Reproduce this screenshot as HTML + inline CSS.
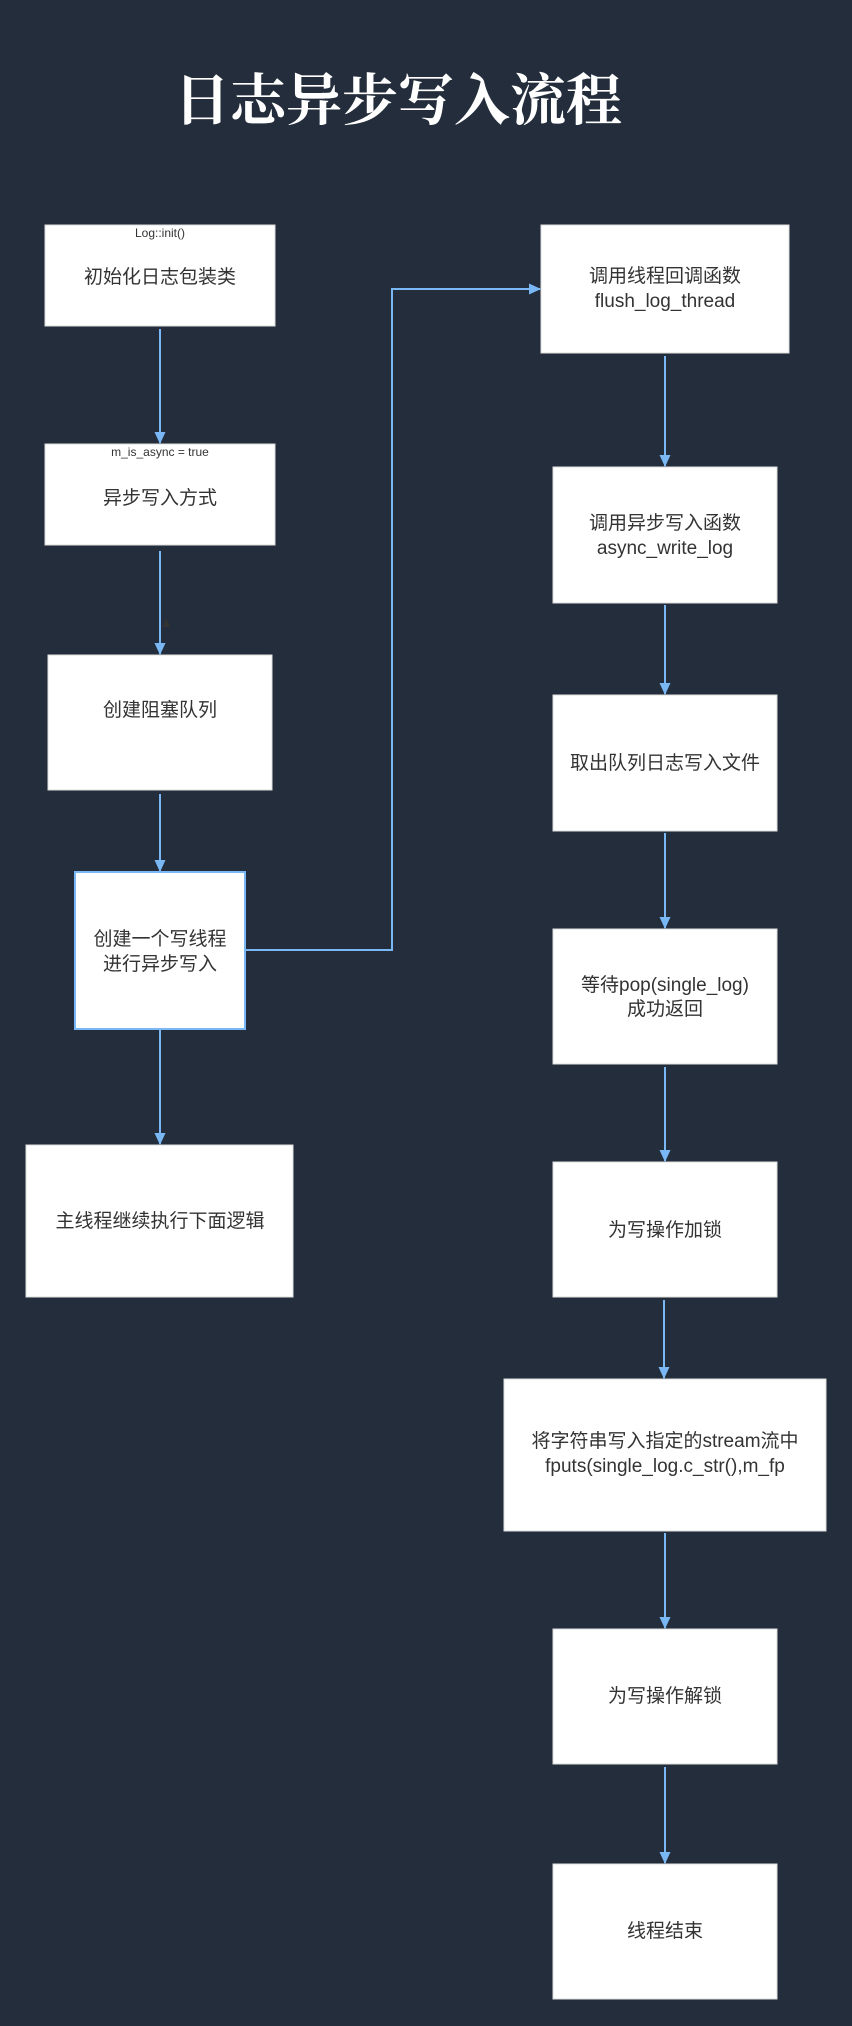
<!DOCTYPE html>
<html><head><meta charset="utf-8"><style>
body{margin:0;background:#232d3b;}
svg{display:block}
.b{fill:#fff;stroke:#ddd;stroke-width:1}
.t{font-family:"Liberation Sans","Noto Sans CJK SC",sans-serif;font-size:19px;fill:#333;text-anchor:middle}
.s{font-family:"Liberation Sans","Noto Sans CJK SC",sans-serif;font-size:12px;fill:#333;text-anchor:middle}
.l{stroke:#7ab8f5;stroke-width:2;fill:none}
</style></head><body>
<svg width="852" height="2026" viewBox="0 0 852 2026">
<defs><marker id="a" markerWidth="12" markerHeight="12" refX="11" refY="6" orient="auto" markerUnits="userSpaceOnUse"><path d="M0,0.5 L12,6 L0,11.5 Z" fill="#7ab8f5"/></marker></defs>
<text x="398" y="120" font-family="'Noto Serif CJK SC','Liberation Serif',serif" font-weight="bold" font-size="56" fill="#fff" text-anchor="middle">日志异步写入流程</text>
<rect class="b" x="45" y="225" width="230" height="101"/>
<text class="s" x="160" y="237">Log::init()</text>
<text class="t" x="160" y="283">初始化日志包装类</text>
<rect class="b" x="45" y="444" width="230" height="101"/>
<text class="s" x="160" y="456">m_is_async = true</text>
<text class="t" x="160" y="504">异步写入方式</text>
<rect class="b" x="48" y="655" width="224" height="135"/>
<text class="t" x="160" y="716">创建阻塞队列</text>
<rect x="75" y="872" width="170" height="157" fill="#fff" stroke="#7ab8f5" stroke-width="2"/>
<text class="t" x="160" y="945">创建一个写线程</text>
<text class="t" x="160" y="970">进行异步写入</text>
<rect class="b" x="26" y="1145" width="267" height="152"/>
<text class="t" x="160" y="1227">主线程继续执行下面逻辑</text>
<rect class="b" x="541" y="225" width="248" height="128"/>
<text class="t" x="665" y="282">调用线程回调函数</text>
<text class="t" x="665" y="307">flush_log_thread</text>
<rect class="b" x="553" y="467" width="224" height="136"/>
<text class="t" x="665" y="529">调用异步写入函数</text>
<text class="t" x="665" y="554">async_write_log</text>
<rect class="b" x="553" y="695" width="224" height="136"/>
<text class="t" x="665" y="769">取出队列日志写入文件</text>
<rect class="b" x="553" y="929" width="224" height="135"/>
<text class="t" x="665" y="991">等待pop(single_log)</text>
<text class="t" x="665" y="1015">成功返回</text>
<rect class="b" x="553" y="1162" width="224" height="135"/>
<text class="t" x="665" y="1236">为写操作加锁</text>
<rect class="b" x="504" y="1379" width="322" height="152"/>
<text class="t" x="665" y="1447">将字符串写入指定的stream流中</text>
<text class="t" x="665" y="1472">fputs(single_log.c_str(),m_fp</text>
<rect class="b" x="553" y="1629" width="224" height="135"/>
<text class="t" x="665" y="1702">为写操作解锁</text>
<rect class="b" x="553" y="1864" width="224" height="135"/>
<text class="t" x="665" y="1937">线程结束</text>
<g class="l">
<line x1="160" y1="329" x2="160" y2="443" marker-end="url(#a)"/>
<line x1="160" y1="551" x2="160" y2="654" marker-end="url(#a)"/>
<line x1="160" y1="794" x2="160" y2="871" marker-end="url(#a)"/>
<line x1="160" y1="1030" x2="160" y2="1144" marker-end="url(#a)"/>
<polyline points="246,950 392,950 392,289 540,289" marker-end="url(#a)"/>
<line x1="665" y1="356" x2="665" y2="466" marker-end="url(#a)"/>
<line x1="665" y1="605" x2="665" y2="694" marker-end="url(#a)"/>
<line x1="665" y1="833" x2="665" y2="928" marker-end="url(#a)"/>
<line x1="665" y1="1067" x2="665" y2="1161" marker-end="url(#a)"/>
<line x1="664" y1="1300" x2="664" y2="1378" marker-end="url(#a)"/>
<line x1="665" y1="1533" x2="665" y2="1628" marker-end="url(#a)"/>
<line x1="665" y1="1767" x2="665" y2="1863" marker-end="url(#a)"/>
</g>
<path d="M166,618 L170,627 L163,627 Z" fill="#333"/>
</svg>
</body></html>
